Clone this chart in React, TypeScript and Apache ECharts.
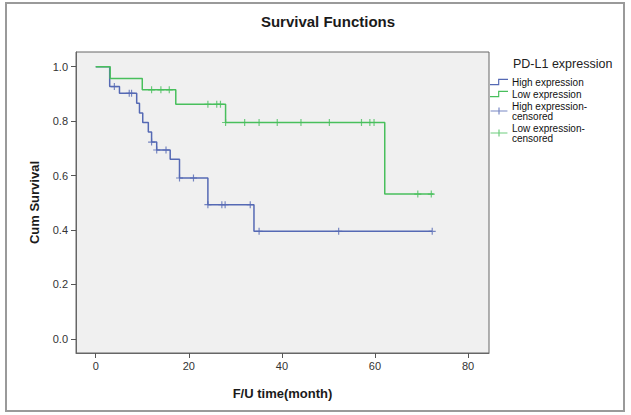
import React, { useEffect, useRef } from "react";
import * as echarts from "echarts";

// High expression (Kaplan–Meier steps)
const highTimes = [0, 3.0, 5.1, 8.8, 9.4, 10.1, 11.3, 12.0, 13.1, 16.0, 18.0, 24.1, 34.0, 72.3];
const highSurv = [1, 0.927, 0.902, 0.866, 0.83, 0.795, 0.76, 0.723, 0.694, 0.66, 0.591, 0.493, 0.395, 0.395];
const highCensTimes = [4.0, 7.2, 7.7, 12.0, 13.1, 15.1, 18.0, 21.0, 24.1, 27.1, 27.8, 33.2, 35.1, 52.2, 72.3];
const highCensSurv = [0.927, 0.902, 0.902, 0.723, 0.694, 0.694, 0.591, 0.591, 0.493, 0.493, 0.493, 0.493, 0.395, 0.395, 0.395];

// Low expression
const lowTimes = [0, 3.1, 10.0, 17.2, 27.9, 62.1, 72.6];
const lowSurv = [1, 0.957, 0.915, 0.862, 0.795, 0.532, 0.532];
const lowCensTimes = [12.0, 14.0, 15.8, 24.1, 26.0, 26.8, 27.9, 32.0, 35.1, 39.0, 44.1, 50.2, 57.1, 58.9, 59.8, 69.2, 72.1];
const lowCensSurv = [0.915, 0.915, 0.915, 0.862, 0.862, 0.862, 0.795, 0.795, 0.795, 0.795, 0.795, 0.795, 0.795, 0.795, 0.795, 0.532, 0.532];

const xTicks = [0, 20, 40, 60, 80];
const yTicks = [0, 0.2, 0.4, 0.6, 0.8, 1.0];

const seriesNames = ["High expression", "Low expression", "High expression-censored", "Low expression-censored"];
const legendLabels: Record<string, string> = {
  "High expression": "High expression",
  "Low expression": "Low expression",
  "High expression-censored": "High expression-\ncensored",
  "Low expression-censored": "Low expression-\ncensored",
};

const BLUE = "#5569b4";
const GREEN = "#48bf5c";
const FONT = "Liberation Sans, Arial, sans-serif";

const PLUS = "path://M3,0 L4.2,0 L4.2,3 L7.2,3 L7.2,4.2 L4.2,4.2 L4.2,7.2 L3,7.2 L3,4.2 L0,4.2 L0,3 L3,3 Z";
const STEP_ICON = "path://M0,6 L9,6 L9,0 L20,0 L20,1.3 L10.3,1.3 L10.3,7.3 L0,7.3 Z";
const CENS_ICON = "path://M0,3.5 L9.3,3.5 L9.3,0 L10.7,0 L10.7,3.5 L20,3.5 L20,4.8 L10.7,4.8 L10.7,8.3 L9.3,8.3 L9.3,4.8 L0,4.8 Z";

const zip = (a: number[], b: number[]) => a.map((v, i) => [v, b[i]]);

export default function App() {
  const ref = useRef<HTMLDivElement>(null);
  useEffect(() => {
    if (!ref.current) return;
    const chart = echarts.init(ref.current, null, { renderer: "svg" });
    chart.setOption({
      animation: false,
      backgroundColor: "#ffffff",
      textStyle: { fontFamily: FONT },
      graphic: [
        {
          type: "rect",
          shape: { x: 6, y: 3, width: 618, height: 408 },
          style: { fill: "none", stroke: "#9a9a9a", lineWidth: 2 },
          silent: true,
        },
        {
          type: "text",
          x: 328,
          y: 21,
          style: {
            text: "Survival Functions",
            fontFamily: FONT,
            fontSize: 15,
            fontWeight: "bold",
            fill: "#1a1a1a",
            textAlign: "center",
            textVerticalAlign: "middle",
          },
        },
        {
          type: "text",
          x: 513,
          y: 64,
          style: {
            text: "PD-L1 expression",
            fontFamily: FONT,
            fontSize: 12.5,
            fill: "#222",
            textAlign: "left",
            textVerticalAlign: "middle",
          },
        },
      ],
      legend: {
        orient: "vertical",
        left: 490,
        top: 77,
        padding: 0,
        itemGap: 2,
        itemWidth: 18,
        itemHeight: 7,
        data: [
          { name: seriesNames[0], icon: STEP_ICON, itemStyle: { color: BLUE } },
          { name: seriesNames[1], icon: STEP_ICON, itemStyle: { color: GREEN } },
          { name: seriesNames[2], icon: CENS_ICON, itemStyle: { color: BLUE } },
          { name: seriesNames[3], icon: CENS_ICON, itemStyle: { color: GREEN } },
        ],
        formatter: (n: string) => legendLabels[n] || n,
        textStyle: { fontFamily: FONT, fontSize: 10, lineHeight: 10, color: "#111", padding: [0, 0, 0, -1] },
        selectedMode: false,
      },
      grid: {
        left: 76,
        top: 52,
        right: 142,
        bottom: 62,
        show: true,
        backgroundColor: "#f0f0f0",
        borderColor: "#666",
        borderWidth: 1,
      },
      xAxis: {
        type: "value",
        min: -4.24,
        max: 84.5,
        name: "F/U time(month)",
        nameLocation: "middle",
        nameGap: 34,
        nameTextStyle: { fontFamily: FONT, fontSize: 13, fontWeight: "bold", color: "#1a1a1a" },
        axisLine: { show: true, onZero: false, lineStyle: { color: "#666" } },
        axisTick: { show: true, inside: false, length: 5, customValues: xTicks, lineStyle: { color: "#555" } },
        axisLabel: { customValues: xTicks, margin: 7, fontSize: 11, color: "#333", fontFamily: FONT },
        splitLine: { show: false },
      },
      yAxis: {
        type: "value",
        min: -0.052,
        max: 1.054,
        name: "Cum Survival",
        nameLocation: "middle",
        nameGap: 35,
        nameTextStyle: { fontFamily: FONT, fontSize: 13, fontWeight: "bold", color: "#1a1a1a" },
        axisLine: { show: true, onZero: false, lineStyle: { color: "#666" } },
        axisTick: { show: true, inside: false, length: 5, customValues: yTicks, lineStyle: { color: "#555" } },
        axisLabel: {
          customValues: yTicks,
          margin: 8,
          fontSize: 11,
          color: "#333",
          fontFamily: FONT,
          formatter: (v: number) => v.toFixed(1),
        },
        splitLine: { show: false },
      },
      series: [
        {
          name: seriesNames[0],
          type: "line",
          step: "end",
          data: zip(highTimes, highSurv),
          showSymbol: false,
          symbol: "none",
          lineStyle: { color: BLUE, width: 1.5 },
          itemStyle: { color: BLUE },
          z: 2,
        },
        {
          name: seriesNames[1],
          type: "line",
          step: "end",
          data: zip(lowTimes, lowSurv),
          showSymbol: false,
          symbol: "none",
          lineStyle: { color: GREEN, width: 1.5 },
          itemStyle: { color: GREEN },
          z: 3,
        },
        {
          name: seriesNames[2],
          type: "scatter",
          data: zip(highCensTimes, highCensSurv),
          symbol: PLUS,
          symbolSize: 7,
          itemStyle: { color: BLUE },
          z: 4,
        },
        {
          name: seriesNames[3],
          type: "scatter",
          data: zip(lowCensTimes, lowCensSurv),
          symbol: PLUS,
          symbolSize: 7,
          itemStyle: { color: GREEN },
          z: 5,
        },
      ],
    });
    return () => chart.dispose();
  }, []);
  return <div ref={ref} style={{ position: "fixed", left: 0, top: 0, width: 631, height: 415 }} />;
}
